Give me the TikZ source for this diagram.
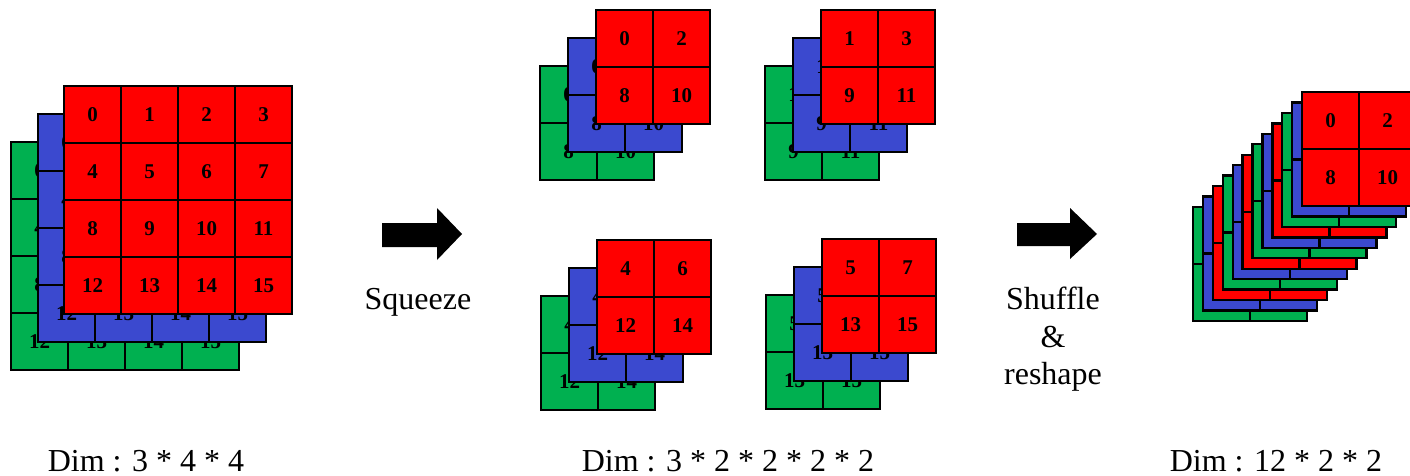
\documentclass[tikz,border=0pt]{standalone}
\usepackage{fontspec}
\setmainfont{Liberation Serif}
\definecolor{cellred}{RGB}{255,0,0}
\definecolor{cellblue}{RGB}{59,73,207}
\definecolor{cellgreen}{RGB}{0,176,80}

\tikzset{
  cell/.style={draw=black, line width=2.4pt, minimum width=57pt, minimum height=57pt,
               inner sep=0pt, font=\fontsize{21}{21}\selectfont\bfseries},
  lbl/.style={font=\fontsize{32}{36}\selectfont, anchor=base, inner sep=0pt},
  dimlbl/.style={lbl, text depth=0pt},
  blockarrow/.style={fill=black}
}

% One layer of cells: name, left x, top y, fill colour, columns, row-major labels
\newcommand\gridlayer[6]{%
  \foreach \n [count=\i from 0] in {#6} {
    \pgfmathtruncatemacro\rr{int(\i/#5)}
    \pgfmathtruncatemacro\cc{mod(\i,#5)}
    \node[cell, fill=#4] (#1-\i) at (#2+57*\cc+28.5, #3+57*\rr+28.5) {\n};
  }%
}
% Three stacked layers (green, blue, red) of a 2x2 block, red on top
\newcommand\smallstack[4]{%
  \gridlayer{#1g}{#2-56}{#3+56}{cellgreen}{2}{#4}
  \gridlayer{#1b}{#2-28}{#3+28}{cellblue}{2}{#4}
  \gridlayer{#1r}{#2}{#3}{cellred}{2}{#4}
}

\begin{document}
\begin{tikzpicture}[x=1pt, y=-1pt]
  \useasboundingbox (0,0) rectangle (1410,476);
  \clip (0,0) rectangle (1410,476);

  % input tensor 3 x 4 x 4
  \gridlayer{ig}{11}{142}{cellgreen}{4}{0,1,2,3,4,5,6,7,8,9,10,11,12,13,14,15}
  \gridlayer{ib}{38}{114}{cellblue}{4}{0,1,2,3,4,5,6,7,8,9,10,11,12,13,14,15}
  \gridlayer{ir}{64}{86}{cellred}{4}{0,1,2,3,4,5,6,7,8,9,10,11,12,13,14,15}

  % squeezed blocks
  \smallstack{a}{596}{10}{0,2,8,10}
  \smallstack{b}{821}{10}{1,3,9,11}
  \smallstack{c}{597}{240}{4,6,12,14}
  \smallstack{d}{822}{239}{5,7,13,15}

  % output: twelve 2x2 layers
  \foreach \k in {11,...,1} {
    \pgfmathtruncatemacro\m{mod(\k,3)}
    \ifcase\m \def\lc{cellred}\or \def\lc{cellblue}\or \def\lc{cellgreen}\fi
    \gridlayer{o\k}{1302-9.9*\k}{92+10.45*\k}{\lc}{2}{{},{},{},{}}
  }
  \gridlayer{o0}{1302}{92}{cellred}{2}{0,2,8,10}

  % block arrows
  \fill[blockarrow] (382,223) -- (437,223) -- (437,208) -- (462,234)
    -- (437,260) -- (437,247) -- (382,247) -- cycle;
  \fill[blockarrow] (1017,223) -- (1070,223) -- (1070,208) -- (1097,234)
    -- (1070,259) -- (1070,246) -- (1017,246) -- cycle;

  % captions
  \node[lbl] (squeeze) at (418,309) {Squeeze};
  \node[lbl] (shuffle) at (1053,309) {Shuffle};
  \node[lbl] (amp) at (1053,347) {\&};
  \node[lbl] (reshape) at (1053,384) {reshape};

  \node[dimlbl] (dim1) at (146,471) {Dim : 3 * 4 * 4};
  \node[dimlbl] (dim2) at (728,471) {Dim : 3 * 2 * 2 * 2 * 2};
  \node[dimlbl] (dim3) at (1276,471) {Dim : 12 * 2 * 2};
\end{tikzpicture}
\end{document}
